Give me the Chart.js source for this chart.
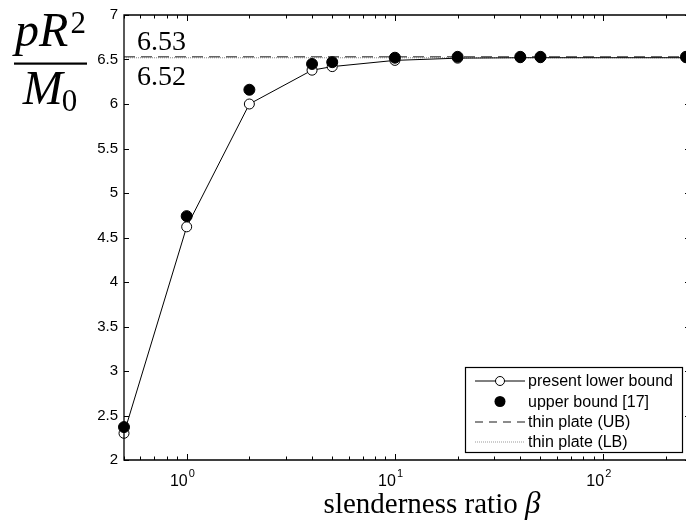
<!DOCTYPE html>
<html><head><meta charset="utf-8">
<script src="https://cdn.jsdelivr.net/npm/chart.js@4/dist/chart.umd.min.js"></script>
<style>html,body{margin:0;padding:0;overflow:hidden;background:#fff}#wrap{position:relative;width:686px;height:525px}</style>
</head><body><div id="wrap"><canvas id="c" width="686" height="525"></canvas></div>
<script>
// ---- data ----
const beta        = [0.5, 1, 2, 4, 5, 10, 20, 40, 50, 250];
const lowerBound  = [2.30, 4.62, 6.00, 6.38, 6.42, 6.49, 6.515, 6.52, 6.52, 6.52];
const upperBound  = [2.37, 4.74, 6.16, 6.45, 6.47, 6.52, 6.53, 6.53, 6.53, 6.53];
const thinPlateUB = 6.53;
const thinPlateLB = 6.52;
const xMin = 0.5, xMax = 250;   // image is cropped at the right edge
const yMin = 2, yMax = 7, yStep = 0.5;
const xDecades = [1, 10, 100];
const xDecadeExp = ['0', '1', '2'];
const legendLabels = ['present lower bound', 'upper bound [17]', 'thin plate (UB)', 'thin plate (LB)'];
const annotUB = '6.53', annotLB = '6.52';

const pts = (ys) => beta.map((b, i) => ({x: b, y: ys[i]}));
const flat = (v) => [{x: xMin, y: v}, {x: xMax, y: v}];

const SANS = '"Liberation Sans", Arial, Helvetica, sans-serif';
const SERIF = '"Liberation Serif", "Times New Roman", serif';

const decor = {
  id: 'decor',
  afterDatasetsDraw(chart) {
    const {ctx, chartArea: a, scales: {x, y}} = chart;
    ctx.save();
    ctx.strokeStyle = '#000'; ctx.lineWidth = 1.3;
    ctx.beginPath();
    ctx.moveTo(a.right + 2, a.top); ctx.lineTo(a.left, a.top);
    ctx.lineTo(a.left, a.bottom); ctx.lineTo(a.right + 2, a.bottom);
    ctx.stroke();
    ctx.lineWidth = 1;
    x.ticks.forEach(t => {
      const v = t.value;
      if (v < xMin || v > xMax) return;
      const e = Math.floor(Math.log10(v) + 1e-9);
      const s = v / Math.pow(10, e);
      if (Math.abs(s - Math.round(s)) > 1e-6) return;
      const len = Math.round(s) === 1 ? 6 : 3.5;
      const px = Math.round(x.getPixelForValue(v)) + 0.5;
      ctx.beginPath();
      ctx.moveTo(px, a.bottom); ctx.lineTo(px, a.bottom - len);
      ctx.moveTo(px, a.top); ctx.lineTo(px, a.top + len);
      ctx.stroke();
    });
    y.ticks.forEach(t => {
      const py = Math.round(y.getPixelForValue(t.value)) + 0.5;
      ctx.beginPath();
      ctx.moveTo(a.left, py); ctx.lineTo(a.left + 5, py);
      ctx.moveTo(a.right + 4, py); ctx.lineTo(a.right - 1, py);
      ctx.stroke();
    });
    ctx.fillStyle = '#000';
    xDecades.forEach((v, i) => {
      const px = x.getPixelForValue(v);
      ctx.font = '16px ' + SANS;
      ctx.textAlign = 'right'; ctx.textBaseline = 'alphabetic';
      ctx.fillText('10', px + 1, a.bottom + 26);
      ctx.font = '11px ' + SANS;
      ctx.textAlign = 'left';
      ctx.fillText(xDecadeExp[i], px + 2, a.bottom + 17);
    });
    ctx.font = '28px ' + SERIF;
    ctx.textAlign = 'left';
    ctx.fillText(annotUB, a.left + 13, y.getPixelForValue(thinPlateUB) - 7);
    ctx.fillText(annotLB, a.left + 13, y.getPixelForValue(thinPlateLB) + 27);
    const cx = 50.5;
    ctx.font = 'italic 48px ' + SERIF;
    const wNum = ctx.measureText('pR').width;
    ctx.font = '31px ' + SERIF;
    const wSup = ctx.measureText('2').width;
    let sx = cx - (wNum + wSup + 2) / 2;
    ctx.font = 'italic 48px ' + SERIF;
    ctx.fillText('pR', sx, 46);
    ctx.font = '31px ' + SERIF;
    ctx.fillText('2', sx + wNum + 2, 33);
    ctx.fillRect(14, 62.5, 73, 2.2);
    ctx.font = 'italic 48px ' + SERIF;
    const wM = ctx.measureText('M').width;
    ctx.font = '31px ' + SERIF;
    const wSub = ctx.measureText('0').width;
    sx = cx - (wM + wSub) / 2;
    ctx.font = 'italic 48px ' + SERIF;
    ctx.fillText('M', sx, 104);
    ctx.font = '31px ' + SERIF;
    ctx.fillText('0', sx + wM - 1, 111);
    ctx.font = '29px ' + SERIF;
    const t1 = 'slenderness ratio ';
    const w1 = ctx.measureText(t1).width;
    ctx.font = 'italic 31px ' + SERIF;
    const w2 = ctx.measureText('β').width;
    let tx = 432 - (w1 + w2) / 2;
    ctx.font = '29px ' + SERIF;
    ctx.fillText(t1, tx, 513);
    ctx.font = 'italic 31px ' + SERIF;
    ctx.fillText('β', tx + w1, 513);
    ctx.restore();
  },
  afterDraw(chart) {
    const {ctx} = chart;
    ctx.save();
    const L = 465.5, T = 367.5, R = 682.5, B = 452.5;
    ctx.fillStyle = '#fff';
    ctx.fillRect(L, T, R - L, B - T);
    ctx.strokeStyle = '#000'; ctx.lineWidth = 1.2;
    ctx.strokeRect(L, T, R - L, B - T);
    const rows = [381, 401.5, 422, 442];
    ctx.font = '16px ' + SANS;
    ctx.textBaseline = 'middle'; ctx.textAlign = 'left';
    ctx.fillStyle = '#000';
    legendLabels.forEach((s, i) => ctx.fillText(s, 528, rows[i] + 1));
    ctx.lineWidth = 1; ctx.strokeStyle = '#000';
    ctx.beginPath(); ctx.moveTo(475, rows[0]); ctx.lineTo(525, rows[0]); ctx.stroke();
    ctx.beginPath(); ctx.arc(500, rows[0], 4.5, 0, Math.PI * 2);
    ctx.fillStyle = '#fff'; ctx.fill(); ctx.stroke();
    ctx.beginPath(); ctx.arc(500, rows[1], 5.5, 0, Math.PI * 2);
    ctx.fillStyle = '#000'; ctx.fill();
    ctx.strokeStyle = '#666'; ctx.lineWidth = 1.5; ctx.setLineDash([8, 6]);
    ctx.beginPath(); ctx.moveTo(475, rows[2]); ctx.lineTo(525, rows[2]); ctx.stroke();
    ctx.strokeStyle = '#999'; ctx.lineWidth = 1; ctx.setLineDash([1, 1]);
    ctx.beginPath(); ctx.moveTo(475, rows[3]); ctx.lineTo(525, rows[3]); ctx.stroke();
    ctx.restore();
  }
};

new Chart(document.getElementById('c'), {
  type: 'scatter',
  data: {
    datasets: [
      {label: legendLabels[0], data: pts(lowerBound), showLine: true, borderColor: '#000', borderWidth: 1,
       pointRadius: 5, pointBackgroundColor: '#fff', pointBorderColor: '#000', pointBorderWidth: 1, order: 2, clip: false},
      {label: legendLabels[1], data: pts(upperBound), showLine: false, pointRadius: 5.5,
       pointBackgroundColor: '#000', pointBorderColor: '#000', pointBorderWidth: 1, order: 1, clip: false},
      {label: legendLabels[2], data: flat(thinPlateUB), showLine: true, borderColor: '#666', borderWidth: 1.5,
       borderDash: [11, 6], pointRadius: 0, order: 3, clip: false},
      {label: legendLabels[3], data: flat(thinPlateLB), showLine: true, borderColor: '#999', borderWidth: 1.2,
       borderDash: [1, 1], pointRadius: 0, order: 4, clip: false}
    ]
  },
  options: {
    responsive: false, animation: false, devicePixelRatio: 1,
    layout: {autoPadding: false, padding: {left: 0, top: 14, right: 0, bottom: 0}},
    plugins: {legend: {display: false}, tooltip: {enabled: false}},
    scales: {
      x: {type: 'logarithmic', min: xMin, max: xMax,
          grid: {display: false, drawTicks: false}, border: {display: false},
          ticks: {display: false},
          afterFit(s) { s.height = 65; }},
      y: {min: yMin, max: yMax,
          grid: {display: false, drawTicks: false}, border: {display: false},
          ticks: {stepSize: yStep, color: '#000', padding: 6, font: {family: SANS, size: 15},
                  callback: (v) => String(v)},
          afterFit(s) { s.width = 124; }}
    }
  },
  plugins: [decor]
});
</script></body></html>
